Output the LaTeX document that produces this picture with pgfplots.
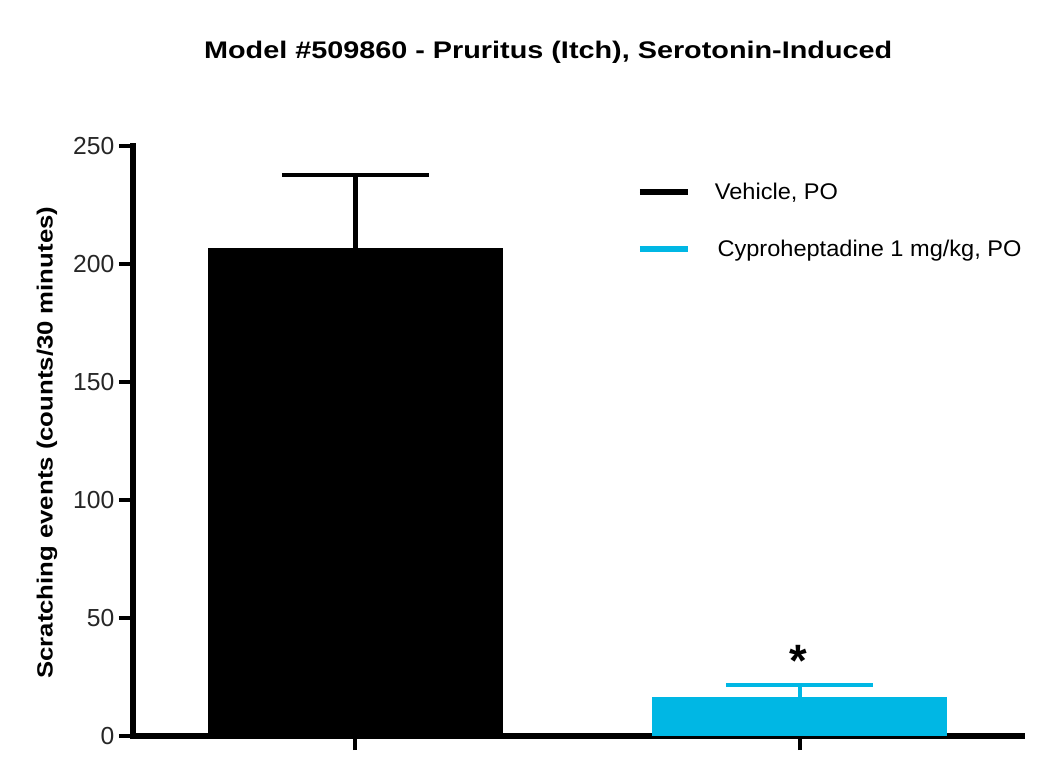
\documentclass[border=0pt]{standalone}
\usepackage{fontspec}
\setmainfont{Liberation Sans}
\newfontfamily\widefont[FakeStretch=1.2]{Liberation Sans}
\newfontfamily\labelfont[FakeStretch=1.17]{Liberation Sans}
\newfontfamily\legendfont[FakeStretch=1.04]{Liberation Sans}
\usepackage{pgfplots}
\pgfplotsset{compat=1.18}
\definecolor{cyanbar}{RGB}{0,183,228}

\begin{document}
\begin{tikzpicture}
\path[use as bounding box] (-99.75pt,-34.5pt) rectangle (687.75pt,552pt);
\begin{axis}[
  scale only axis,
  width=666.75pt, height=442.5pt,
  at={(0,0)}, anchor=south west,
  xmin=-0.5, xmax=1.5,
  ymin=0, ymax=250,
  axis x line=bottom, axis y line=left,
  axis line style={-, line width=5pt, line cap=rect},
  xtick={0,1}, xticklabels={},
  ytick={0,50,100,150,200,250},
  tick align=outside,
  major tick length=10.5pt,
  tick style={line width=3pt, black},
  /pgf/number format/assume math mode=true,
  yticklabel style={font=\fontsize{18.5}{22}\selectfont, color=black!85},
  title={Model \#509860 - Pruritus (Itch), Serotonin-Induced},
  title style={font=\widefont\bfseries\fontsize{18}{22}\selectfont, at={(0.467,1.146)}, anchor=center},
  ylabel={Scratching events (counts/30 minutes)},
  ylabel style={font=\labelfont\bfseries\fontsize{16.5}{20}\selectfont, at={(axis description cs:-0.0967,0.497)}, anchor=center},
  legend style={draw=none, fill=none, at={(0.562,0.947)}, anchor=north west,
    font=\legendfont\fontsize{17}{20}\selectfont, row sep=25pt, legend cell align=left},
  clip=false,
]
\addplot[ybar, bar width=221.25pt, bar shift=0pt, fill=black, draw=none,
  legend image code/.code={\draw[line width=4.5pt, black] (0pt,0pt) -- (36pt,0pt);},
  error bars/.cd, y dir=plus, y explicit,
  error bar style={line width=3.75pt, black},
  error mark options={rotate=90, line width=3pt, mark size=55pt, black}]
  coordinates {(0,206.7) +- (0,30.9)};
\addlegendentry{\hspace{16pt}Vehicle, PO}
\addplot[ybar, bar width=221.25pt, bar shift=0pt, fill=cyanbar, draw=none,
  legend image code/.code={\draw[line width=4.5pt, cyanbar] (0pt,0pt) -- (36pt,0pt);},
  error bars/.cd, y dir=plus, y explicit,
  error bar style={line width=3pt, cyanbar},
  error mark options={rotate=90, line width=3pt, mark size=55pt, cyanbar}]
  coordinates {(1,16.7) +- (0,4.7)};
\addlegendentry{\hspace{18pt}Cyproheptadine 1 mg/kg, PO}
\node[font=\bfseries\fontsize{34}{36}\selectfont, anchor=base] at (axis cs:0.996,25) {*};
\end{axis}
\end{tikzpicture}
\end{document}
